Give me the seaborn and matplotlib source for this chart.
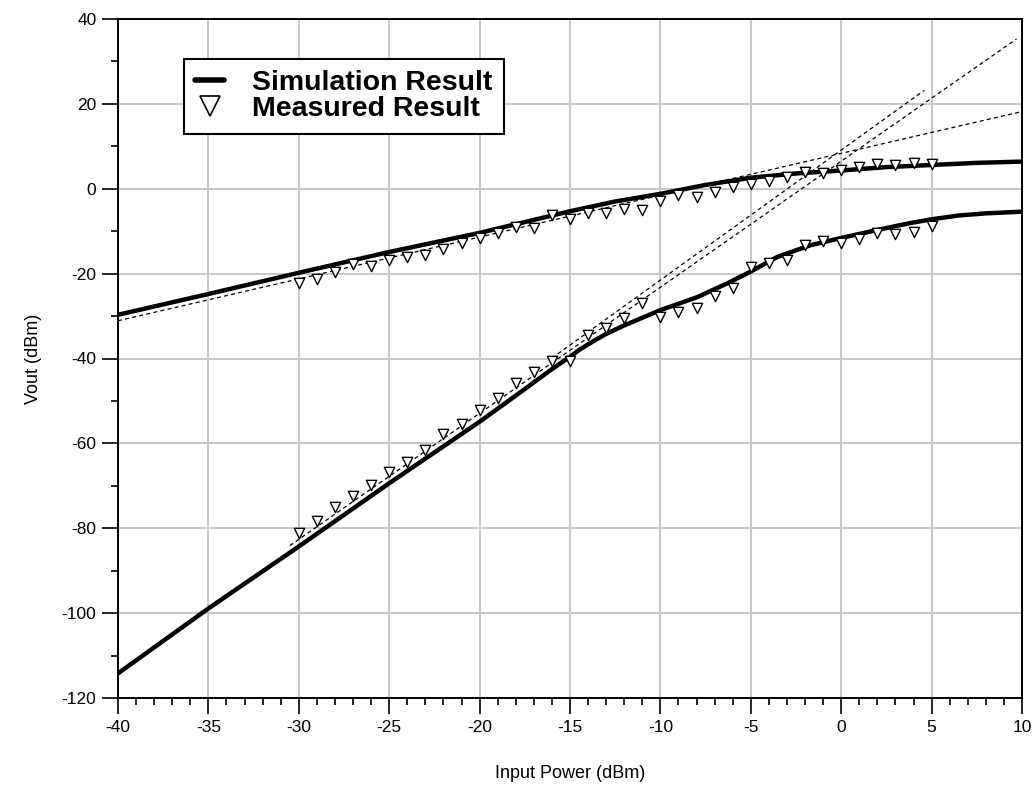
import matplotlib
matplotlib.use("Agg")
import matplotlib.pyplot as plt
from matplotlib.ticker import MultipleLocator
from matplotlib.lines import Line2D
import pandas as pd
import seaborn as sns

# ---- data ----
sim_fund_x = [-40, -35, -30, -25, -20, -15, -12.5, -10, -7.5, -5, -2.5, 0, 2.5, 5, 7.5, 10]
sim_fund_y = [-29.7, -24.8, -19.8, -14.9, -10.4, -5.3, -3.0, -1.2, 0.9, 2.6, 3.6, 4.3, 5.1, 5.6, 6.1, 6.4]

sim_im3_x = [-40, -35, -30, -25, -20, -17.5, -16, -15, -14.5, -13.7, -13, -12, -10, -8, -6.3, -5, -3.5,
             -1.7, 0, 2, 3.8, 5, 6.5, 8, 10]
sim_im3_y = [-114.2, -98.9, -84.3, -69.4, -54.9, -47.2, -42.5, -39.6, -38.0, -35.9, -34.2, -32.2, -28.6,
             -25.6, -22.3, -19.5, -16.0, -13.3, -11.6, -9.7, -8.1, -7.2, -6.3, -5.8, -5.4]

meas_x = list(range(-30, 6))
meas_fund_y = [-22.3, -21.3, -19.5, -17.7, -18.2, -16.9, -16.0, -15.7, -14.2, -12.8, -11.5, -10.5, -8.9,
               -9.3, -6.3, -7.1, -5.8, -5.8, -4.8, -5.0, -3.0, -1.5, -1.9, -0.7, 0.5, 1.1, 1.9, 2.7,
               4.0, 3.8, 4.4, 5.2, 5.8, 5.6, 6.1, 5.8]
meas_im3_y = [-81.2, -78.4, -74.9, -72.3, -69.8, -66.7, -64.3, -61.6, -57.9, -55.5, -52.1, -49.4, -45.8,
              -43.1, -40.5, -40.7, -34.5, -32.9, -30.5, -27.0, -30.3, -29.1, -28.2, -25.3, -23.5, -18.4,
              -17.6, -16.9, -13.3, -12.2, -12.7, -11.9, -10.5, -10.7, -10.3, -8.8]

# extrapolation (dashed) lines: endpoints
ext_fund_x = [-40, 10]
ext_fund_y = [-31.1, 18.2]
ext_im3_a_x = [-30.5, 9.7]
ext_im3_a_y = [-84.1, 35.3]
ext_im3_b_x = [-16, 4.6]
ext_im3_b_y = [-39.9, 23.2]

x_ticks = list(range(-40, 11, 5))
y_ticks = list(range(-120, 41, 20))
legend_labels = ['Simulation Result', 'Measured Result']

# ---- style ----
sns.set_theme(style="ticks")
plt.rcParams['font.family'] = ['Liberation Sans', 'DejaVu Sans']
plt.rcParams['axes.unicode_minus'] = False

fig = plt.figure(figsize=(10.36, 7.9), dpi=100)
ax = fig.add_axes([118/1036, 1-698/790, 904/1036, 679/790])

sim_df = pd.concat([
    pd.DataFrame({'x': sim_fund_x, 'y': sim_fund_y, 'curve': 'fund'}),
    pd.DataFrame({'x': sim_im3_x, 'y': sim_im3_y, 'curve': 'im3'}),
])
meas_df = pd.concat([
    pd.DataFrame({'x': meas_x, 'y': meas_fund_y, 'curve': 'fund'}),
    pd.DataFrame({'x': meas_x, 'y': meas_im3_y, 'curve': 'im3'}),
])

dash = (0, (3.2, 2.6))
for ex, ey in [(ext_fund_x, ext_fund_y), (ext_im3_a_x, ext_im3_a_y), (ext_im3_b_x, ext_im3_b_y)]:
    sns.lineplot(x=ex, y=ey, ax=ax, color='black', lw=0.9, linestyle=dash, zorder=3)

sns.lineplot(data=sim_df, x='x', y='y', units='curve', estimator=None, sort=False,
             color='black', lw=3.2, ax=ax, zorder=4)
sns.scatterplot(data=meas_df, x='x', y='y', marker='v', s=55, facecolor='white',
                edgecolor='black', linewidth=1.0, ax=ax, zorder=5)

ax.set_xlim(-40, 10)
ax.set_ylim(-120, 40)
ax.set_xticks(x_ticks)
ax.set_yticks(y_ticks)
ax.xaxis.set_minor_locator(MultipleLocator(1))
ax.yaxis.set_minor_locator(MultipleLocator(10))
ax.set_xticklabels([str(t) for t in x_ticks])
ax.set_yticklabels([str(t) for t in y_ticks])
ax.tick_params(which='major', direction='out', length=11.5, width=1.2, color='black',
               labelsize=12.5, pad=4, labelcolor='black')
ax.tick_params(which='minor', direction='out', length=5, width=1.2, color='black')
ax.tick_params(top=False, right=False, which='both')
ax.grid(True, which='major', color='#c8c8c8', lw=1.4)
ax.set_axisbelow(True)
for sp in ax.spines.values():
    sp.set_visible(True)
    sp.set_color('black')
    sp.set_linewidth(1.4)

ax.set_xlabel('Input Power (dBm)', fontsize=13, color='black', labelpad=22)
ax.set_ylabel('Vout (dBm)', fontsize=13, color='black', labelpad=14)

handles = [Line2D([], [], color='black', lw=4),
           Line2D([], [], color='black', marker='v', markerfacecolor='white', markeredgewidth=1.2,
                  linestyle='none', markersize=14)]
leg = ax.legend(handles, legend_labels, loc='upper left',
                bbox_to_anchor=(0.073, 0.941), borderaxespad=0, fancybox=False, frameon=True,
                prop={'family': 'Liberation Sans', 'weight': 'bold', 'size': 20.5},
                handlelength=1.0, handletextpad=1.0, borderpad=0.4, labelspacing=0.0)
for t in leg.get_texts():
    t.set_color('black')
leg.get_frame().set_edgecolor('black')
leg.get_frame().set_linewidth(1.5)
leg.get_frame().set_alpha(1)
leg.set_zorder(10)

fig.savefig('out.png', dpi=100)
